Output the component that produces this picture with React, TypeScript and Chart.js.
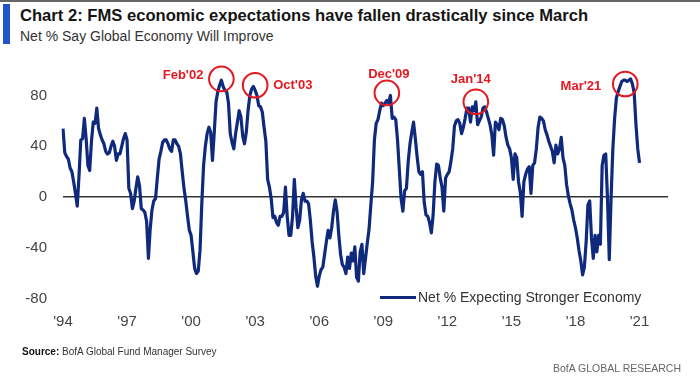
import React, { useEffect, useRef } from "react";
import { Chart, registerables } from "chart.js";

Chart.register(...registerables);

// Monthly survey readings, Aug 1994 .. Aug 2021 (net % expecting a stronger economy)
const START_YEAR = 1994;
const START_MONTH = 7; // August (0-based)
const EXTRA_MONTHS = 16; // empty room on the axis after the last reading

const netExpectingStronger: number[] = [
  54, 35, 32, 30, 23, 20, 12, 3, -7, 17, 45, 46, 62, 46, 25, 21, 44, 59, 58, 70,
  54, 49, 45, 42, 36, 34, 35, 40, 44, 40, 29, 34, 34, 40, 46, 50, 45, 7, 3, -9,
  -3, 7, 16, 9, -9, -10, -12, -19, -48, -25, -10, -3, -1, 15, 30, 36, 43, 45, 45, 42,
  38, 36, 45, 45, 42, 40, 34, 20, 7, -3, -15, -26, -30, -43, -56, -60, -58, -42, -5, 25,
  40, 50, 55, 51, 29, 51, 75, 83, 88, 92, 87, 84, 83, 74, 50, 43, 38, 50, 59, 68,
  63, 48, 42, 51, 68, 80, 85, 87, 84, 80, 72, 71, 67, 55, 44, 14, 8, -1, -16, -15,
  -20, -22, -15, -15, -12, 8, -15, -30, -30, -15, 14, -8, -24, -18, -2, 3, -3, -3, -5, -18,
  -35, -47, -62, -70, -62, -57, -55, -45, -35, -26, -32, -24, -11, -2, -11, -30, -45, -53, -55, -60,
  -47, -56, -44, -50, -39, -63, -66, -43, -37, -60, -48, -36, -25, -6, 12, 45, 58, 61, 68, 74,
  72, 74, 76, 74, 80, 62, 63, 61, 45, 22, -1, -11, 5, 7, 28, 42, 51, 59, 46, 32,
  20, 18, 20, -4, -14, -15, -20, -28, -14, 12, 26, 25, 15, 8, -11, 15, 18, 20, 28, 38,
  56, 60, 61, 58, 50, 55, 62, 70, 70, 59, 71, 68, 75, 57, 60, 63, 70, 71, 67, 62,
  57, 49, 33, 59, 57, 53, 62, 61, 56, 47, 41, 38, 31, 14, 34, 31, 12, 4, -15, 12,
  18, 22, 24, 3, 25, 27, 38, 55, 63, 62, 60, 53, 49, 44, 40, 36, 27, 41, 34, 38,
  47, 31, 25, 10, 1, -5, -10, -18, -24, -32, -42, -50, -61, -55, -35, -6, -3, -32, -48, -30,
  -43, -30, -37, 25, 33, 34, -1, -49, -1, 38, 62, 78, 83, 87, 91, 92, 92, 91, 92, 93,
  89, 82, 57, 38, 27,
];

const tickLabels = ["'94", "'97", "'00", "'03", "'06", "'09", "'12", "'15", "'18", "'21"];
const TICK_EVERY_MONTHS = 36;
const yTickValues = [-80, -40, 0, 40, 80];

// Highlighted peaks: label, month index, value at circle centre
const peakLabels = ["Feb'02", "Oct'03", "Dec'09", "Jan'14", "Mar'21"];
const peakIndex = [89, 108, 182, 232, 316];
const peakValue = [93, 88, 82, 75, 89];

// placement of each peak label relative to its circle (styles, not data)
const peakPlacement = [
  { dx: -18, dy: -3, align: "right" },
  { dx: 18, dy: 0, align: "left" },
  { dx: 2, dy: -18, align: "center" },
  { dx: -5, dy: -22, align: "center" },
  { dx: -24, dy: 2, align: "right" },
];

const monthLabels: string[] = Array.from(
  { length: netExpectingStronger.length + EXTRA_MONTHS },
  (_, i) => {
    const m = START_MONTH + i;
    return `${START_YEAR + Math.floor(m / 12)}-${String((m % 12) + 1).padStart(2, "0")}`;
  }
);

const NAVY = "#0f2a7c";
const RED = "#e5171f";
const FONT = "'Liberation Sans', Arial, sans-serif";

const peakPlugin = {
  id: "peakCircles",
  afterDatasetsDraw(chart: any) {
    const { ctx } = chart;
    const xs = chart.scales.x;
    const ys = chart.scales.y;
    ctx.save();
    peakLabels.forEach((label, k) => {
      const p = peakPlacement[k];
      const cx = xs.getPixelForValue(peakIndex[k]);
      const cy = ys.getPixelForValue(peakValue[k]);
      ctx.beginPath();
      ctx.arc(cx, cy, 12.3, 0, Math.PI * 2);
      ctx.strokeStyle = RED;
      ctx.lineWidth = 2;
      ctx.stroke();
      ctx.font = `bold 13px ${FONT}`;
      ctx.fillStyle = RED;
      ctx.textAlign = p.align;
      ctx.textBaseline = "middle";
      ctx.fillText(label, cx + p.dx, cy + p.dy);
    });
    ctx.restore();
  },
};

export default function App() {
  const ref = useRef<HTMLCanvasElement>(null);

  useEffect(() => {
    if (!ref.current) return;
    const chart = new Chart(ref.current, {
      type: "line",
      data: {
        labels: monthLabels,
        datasets: [
          {
            label: "Net % Expecting Stronger Economy",
            data: netExpectingStronger,
            borderColor: NAVY,
            borderWidth: 3.2,
            pointRadius: 0,
            tension: 0,
            fill: false,
            borderJoinStyle: "round",
          },
        ],
      },
      options: {
        responsive: false,
        animation: false,
        events: [],
        layout: { padding: { left: 0, right: 32, top: 70, bottom: 0 } },
        plugins: {
          legend: { display: false },
          tooltip: { enabled: false },
          title: { display: false },
        },
        scales: {
          x: {
            type: "category",
            offset: false,
            border: { display: false },
            grid: { display: false, drawTicks: false },
            ticks: {
              autoSkip: false,
              maxRotation: 0,
              minRotation: 0,
              padding: 14,
              color: "#444",
              font: { family: FONT, size: 15 },
              callback: (_v: any, i: number) =>
                i % TICK_EVERY_MONTHS === 0 && i / TICK_EVERY_MONTHS < tickLabels.length
                  ? tickLabels[i / TICK_EVERY_MONTHS]
                  : "",
            },
            afterFit: (s: any) => {
              s.height = 87;
            },
          },
          y: {
            min: -80,
            max: 100,
            border: { display: false },
            afterBuildTicks: (s: any) => {
              s.ticks = yTickValues.map((v) => ({ value: v }));
            },
            grid: {
              drawTicks: false,
              lineWidth: 1.5,
              color: (c: any) => (c.tick && c.tick.value === 0 ? "#333" : "rgba(0,0,0,0)"),
            },
            ticks: {
              padding: 16,
              color: "#444",
              font: { family: FONT, size: 15 },
            },
            afterFit: (s: any) => {
              s.width = 63;
            },
          },
        },
      },
      plugins: [peakPlugin],
    } as any);
    return () => chart.destroy();
  }, []);

  return (
    <div
      style={{
        position: "fixed",
        left: 0,
        top: 0,
        width: 700,
        height: 386,
        background: "#fff",
        overflow: "hidden",
        fontFamily: FONT,
      }}
    >
      <div style={{ position: "absolute", left: 0, top: 0, width: 700, height: 2, background: "#666" }} />
      <div style={{ position: "absolute", left: 3, top: 4, width: 7, height: 40, background: "#1f55c8" }} />
      <div
        style={{
          position: "absolute",
          left: 20,
          top: 6,
          fontSize: 16.6,
          fontWeight: "bold",
          color: "#151515",
          whiteSpace: "nowrap",
          lineHeight: "20px",
        }}
      >
        Chart 2: FMS economic expectations have fallen drastically since March
      </div>
      <div
        style={{
          position: "absolute",
          left: 20,
          top: 27,
          fontSize: 14,
          color: "#333",
          whiteSpace: "nowrap",
          lineHeight: "18px",
        }}
      >
        Net % Say Global Economy Will Improve
      </div>
      <canvas ref={ref} width={700} height={386} style={{ position: "absolute", left: 0, top: 0 }} />
      <div style={{ position: "absolute", left: 380, top: 296, width: 36, height: 3, background: NAVY }} />
      <div
        style={{
          position: "absolute",
          left: 418,
          top: 288,
          fontSize: 14,
          color: "#333",
          whiteSpace: "nowrap",
          lineHeight: "18px",
        }}
      >
        Net % Expecting Stronger Economy
      </div>
      <div
        style={{
          position: "absolute",
          left: 22,
          top: 345,
          fontSize: 10,
          color: "#333",
          whiteSpace: "nowrap",
          lineHeight: "14px",
        }}
      >
        <b style={{ color: "#111" }}>Source:</b> BofA Global Fund Manager Survey
      </div>
      <div
        style={{
          position: "absolute",
          left: 553,
          top: 361,
          fontSize: 10.5,
          color: "#666",
          whiteSpace: "nowrap",
          lineHeight: "14px",
        }}
      >
        BofA GLOBAL RESEARCH
      </div>
    </div>
  );
}
